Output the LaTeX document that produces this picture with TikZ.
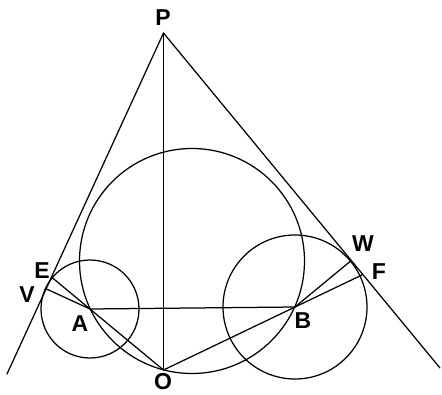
\documentclass[tikz,border=0pt]{standalone}
\usepackage{fontspec}
\setmainfont{Liberation Sans}
\usetikzlibrary{calc}
\tikzset{geo/.style={line width=1.25pt, line cap=round},
  lbl/.style={font=\fontsize{23}{23}\selectfont\bfseries, inner sep=0pt}}

\begin{document}
\begin{tikzpicture}[x=1pt, y=-1pt]
  \useasboundingbox (0,0) rectangle (442,394);
  % main points (pixel grid, y downwards)
  \coordinate (P) at (163.5,33);
  \coordinate (O) at (163.5,370);
  \coordinate (A) at (90,309);
  \coordinate (B) at (295,307);
  \coordinate (L) at (7,374);
  \coordinate (R) at (440,368);
  \coordinate (M) at (192,261); % centre of circle through A, B, O
  % feet of the radii on the tangents, and OA, OB cut with the tangents
  \coordinate (V) at ($(P)!(A)!(L)$);
  \coordinate (W) at ($(P)!(B)!(R)$);
  \coordinate (E) at (intersection of O--A and P--L);
  \coordinate (F) at (intersection of O--B and P--R);
  % circles
  \draw[geo] (A) circle[radius=49pt];
  \draw[geo] (B) circle[radius=72pt];
  \draw[geo] (M) circle[radius=112.5pt];
  % lines
  \draw[geo] (P) -- (L);
  \draw[geo] (P) -- (R);
  \draw[geo, line width=1pt] (P) -- (O);
  \draw[geo] (A) -- (B);
  \draw[geo] (E) -- (O);
  \draw[geo] (F) -- (O);
  \draw[geo] (V) -- (A);
  \draw[geo] (W) -- (B);
  % labels
  \node[lbl] (lP) at (163,18) {P};
  \node[lbl] (lE) at (42,271) {E};
  \node[lbl] (lV) at (27,295) {V};
  \node[lbl] (lA) at (80,324) {A};
  \node[lbl] (lO) at (163,382) {O};
  \node[lbl] (lB) at (303,321) {B};
  \node[lbl] (lW) at (363,244) {W};
  \node[lbl] (lF) at (379,272) {F};
\end{tikzpicture}
\end{document}
